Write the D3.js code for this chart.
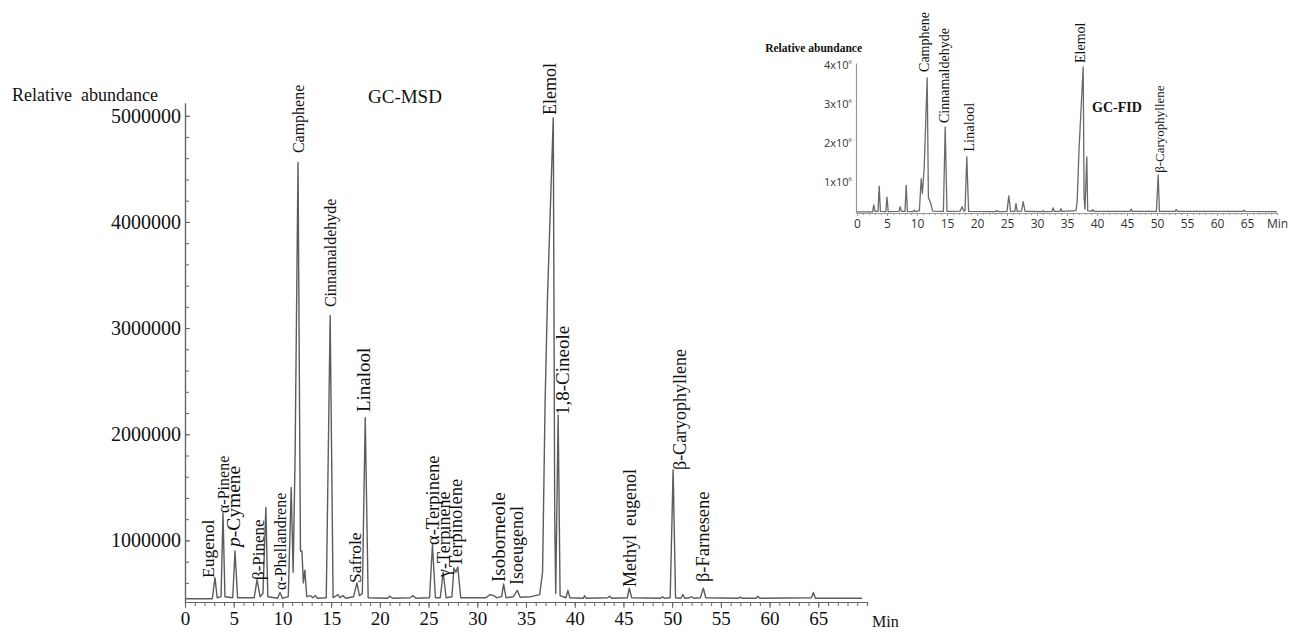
<!DOCTYPE html>
<html>
<head>
<meta charset="utf-8">
<script src="https://cdn.jsdelivr.net/npm/d3@7"></script>
<style>
  body { margin: 0; background: #fff; }
  svg { display: block; }
  text { font-family: "Liberation Serif", "Times New Roman", serif; fill: #111; }
  .inset-num { font-family: "Open Sans", "Liberation Sans", sans-serif; fill: #333; }
</style>
</head>
<body>
<div class="chart"></div>
<script>
const WIDTH = 1293;
const HEIGHT = 632;

// GC-MSD trace: [retention time (min), abundance]
var msdTrace = [
  [0, 450000], [2.8, 450000], [3.08, 650000], [3.3, 460000], [3.7, 470000], [3.9, 1260000], [4.1, 470000],
  [4.9, 460000], [5.13, 900000], [5.4, 460000], [7.1, 460000], [7.4, 630000], [7.7, 470000], [8.0, 500000],
  [8.3, 1310000], [8.5, 470000], [9.5, 455000], [9.75, 510000], [10.0, 455000], [10.6, 470000], [10.9, 1500000],
  [11.1, 700000], [11.3, 1790000], [11.6, 4560000], [11.85, 900000], [12.0, 900000], [12.15, 600000],
  [12.3, 720000], [12.5, 470000], [12.9, 480000], [13.1, 460000], [13.4, 480000], [13.6, 455000],
  [14.5, 460000], [14.9, 3120000], [15.2, 460000], [15.7, 490000], [15.9, 460000], [16.2, 480000],
  [16.5, 455000], [17.3, 470000], [17.65, 600000], [17.9, 480000], [18.2, 500000], [18.5, 2155000],
  [18.8, 460000], [20.8, 455000], [21.0, 475000], [21.3, 455000], [23.1, 460000], [23.4, 480000],
  [23.7, 455000], [25.1, 460000], [25.4, 960000], [25.7, 460000], [26.2, 460000], [26.5, 700000],
  [26.8, 460000], [27.4, 470000], [27.6, 740000], [27.8, 700000], [28.0, 750000], [28.3, 460000],
  [30.9, 460000], [31.3, 490000], [31.7, 480000], [32.0, 460000], [32.5, 470000], [32.7, 590000],
  [32.95, 460000], [33.7, 470000], [34.1, 530000], [34.4, 465000], [35.5, 470000], [36.4, 490000],
  [36.7, 700000], [36.96, 2300000], [37.2, 3270000], [37.8, 4980000], [37.95, 1200000], [38.05, 500000],
  [38.3, 2180000], [38.5, 480000], [39.1, 460000], [39.3, 530000], [39.5, 460000], [40.9, 455000],
  [41.0, 480000], [41.2, 455000], [43.4, 460000], [43.6, 475000], [43.8, 455000], [45.4, 460000],
  [45.6, 550000], [45.85, 460000], [48.8, 455000], [49.0, 470000], [49.2, 455000], [49.8, 460000],
  [50.1, 1665000], [50.35, 460000], [50.9, 455000], [51.1, 490000], [51.3, 455000], [51.8, 460000],
  [52.0, 470000], [52.2, 455000], [52.9, 460000], [53.2, 550000], [53.45, 460000], [56.8, 455000],
  [57.0, 465000], [57.2, 455000], [58.6, 455000], [58.8, 475000], [59.0, 455000], [64.3, 460000],
  [64.5, 510000], [64.7, 455000], [69.5, 455000]
];

var msdNames = ['Eugenol', 'α-Pinene', 'p-Cymene', 'β-Pinene', 'α-Phellandrene', 'Camphene', 'Cinnamaldehyde',
  'Safrole', 'Linalool', 'α-Terpinene', 'γ-Terpinene', 'Terpinolene', 'Isoborneole', 'Isoeugenol', 'Elemol',
  '1,8-Cineole', 'Methyl  eugenol', 'β-Caryophyllene', 'β-Farnesene'];
var msdNameTimes = [2.98, 4.52, 5.65, 8.11, 10.37, 12.22, 15.5, 18.07, 18.99, 26.08, 27.2, 28.44, 32.85, 34.7,
  38.09, 39.43, 46.3, 51.44, 53.8];
var msdNameLevels = [646000, 1258000, 938000, 627000, 533000, 4648000, 3198000, 599000, 2209000, 957000,
  655000, 750000, 608000, 580000, 5006000, 2181000, 561000, 1663000, 608000];

var msdXTicks = [0, 5, 10, 15, 20, 25, 30, 35, 40, 45, 50, 55, 60, 65];
var msdYTicks = [1000000, 2000000, 3000000, 4000000, 5000000];

// GC-FID inset trace
var fidTrace = [
  [0, 230000], [2.6, 230000], [2.8, 410000], [3.0, 240000], [3.5, 240000], [3.7, 890000], [3.9, 240000],
  [4.8, 235000], [5.0, 610000], [5.2, 235000], [7.0, 240000], [7.2, 360000], [7.4, 240000], [8.0, 245000],
  [8.2, 910000], [8.4, 240000], [9.3, 235000], [9.5, 270000], [9.7, 235000], [10.4, 260000], [10.7, 1080000],
  [10.9, 700000], [11.2, 1360000], [11.7, 3670000], [11.9, 600000], [12.1, 520000], [12.3, 440000],
  [12.6, 250000], [14.4, 240000], [14.7, 2410000], [15.0, 240000], [17.2, 250000], [17.5, 360000],
  [17.8, 250000], [18.0, 260000], [18.3, 1640000], [18.6, 240000], [23.0, 235000], [23.3, 260000],
  [23.6, 235000], [25.0, 240000], [25.3, 640000], [25.6, 240000], [26.3, 240000], [26.5, 440000],
  [26.7, 240000], [27.4, 250000], [27.7, 490000], [28.0, 245000], [30.8, 235000], [31.0, 260000],
  [31.2, 235000], [32.5, 240000], [32.7, 330000], [32.9, 240000], [33.8, 240000], [34.0, 310000],
  [34.2, 240000], [36.5, 260000], [36.7, 500000], [37.0, 1820000], [37.7, 3950000], [37.85, 600000],
  [38.0, 300000], [38.3, 1640000], [38.45, 260000], [39.1, 240000], [39.3, 290000], [39.5, 240000],
  [45.5, 240000], [45.7, 300000], [45.9, 240000], [49.9, 240000], [50.2, 1180000], [50.4, 240000],
  [53.0, 240000], [53.2, 290000], [53.4, 240000], [64.3, 240000], [64.5, 270000], [64.7, 240000],
  [70, 235000]
];

var fidNames = ['Camphene', 'Cinnamaldehyde', 'Linalool', 'Elemol', 'β-Caryophyllene'];
var fidNameTimes = [12.0, 15.33, 19.5, 38.0, 51.17];
var fidNameLevels = [3820000, 2510000, 1770000, 4050000, 1230000];

var fidXTicks = [0, 5, 10, 15, 20, 25, 30, 35, 40, 45, 50, 55, 60, 65];
var fidYTicks = [1000000, 2000000, 3000000, 4000000];
var fidYTickLabels = ['1x10', '2x10', '3x10', '4x10'];

var msdX = d3.scaleLinear().domain([0, 70]).range([185, 867]);
var msdY = d3.scaleLinear().domain([420000, 5120000]).range([602, 103]);

var fidX = d3.scaleLinear().domain([0, 70]).range([857, 1277]);
var fidY = d3.scaleLinear().domain([200000, 4050000]).range([213, 63]);

var svg = d3.select('.chart').append('svg')
  .attr('width', WIDTH)
  .attr('height', HEIGHT);

svg.append('rect').attr('width', WIDTH).attr('height', HEIGHT).attr('fill', '#fff');

function styleAxis(g, color) {
  g.select('.domain').attr('stroke', color).attr('stroke-width', 1.2);
  g.selectAll('.tick line').attr('stroke', color);
}

function drawMsd() {
  var g = svg.append('g');

  // minor ticks
  var xMinor = g.append('g').attr('transform', 'translate(0,602)')
    .call(d3.axisBottom(msdX).tickValues(d3.range(0, 70, 1)).tickSize(4).tickFormat(''));
  styleAxis(xMinor, '#666');

  var xAxisG = g.append('g').attr('transform', 'translate(0,602)')
    .call(d3.axisBottom(msdX).tickValues(msdXTicks).tickSize(6).tickPadding(4).tickSizeOuter(0));
  styleAxis(xAxisG, '#666');
  xAxisG.selectAll('text').attr('font-size', 19).attr('font-family', '"Liberation Serif", serif').attr('fill', '#111');

  var yMinor = g.append('g').attr('transform', 'translate(185,0)')
    .call(d3.axisLeft(msdY).tickValues(d3.range(600000, 5100001, 200000)).tickSize(-4).tickSizeOuter(0).tickFormat(''));
  styleAxis(yMinor, '#666');

  var yAxisG = g.append('g').attr('transform', 'translate(185,0)')
    .call(d3.axisLeft(msdY).tickValues(msdYTicks).tickSizeInner(-5).tickSizeOuter(0).tickPadding(4).tickFormat(d3.format('d')));
  styleAxis(yAxisG, '#666');
  yAxisG.selectAll('text').attr('font-size', 20).attr('font-family', '"Liberation Serif", serif').attr('fill', '#111');

  var line = d3.line()
    .x(function (d) { return msdX(d[0]); })
    .y(function (d) { return msdY(d[1]); });

  g.append('path')
    .attr('d', line(msdTrace))
    .attr('fill', 'none')
    .attr('stroke', '#5c5c5c')
    .attr('stroke-width', 1.4)
    .attr('stroke-linejoin', 'round');

  var sizes = [17.5, 16, 19.5, 17, 16, 16, 16, 17.5, 19, 18.5, 18, 18.5, 19, 18, 18, 19, 18, 18, 18.5];
  msdNames.forEach(function (name, i) {
    var t = g.append('text')
      .attr('transform', 'translate(' + msdX(msdNameTimes[i]) + ',' + msdY(msdNameLevels[i]) + ') rotate(-90)')
      .attr('font-size', sizes[i])
      .style('white-space', 'pre');
    if (name === 'p-Cymene') {
      t.append('tspan').attr('font-style', 'italic').text('p');
      t.append('tspan').text('-Cymene');
    } else {
      t.text(name);
    }
  });

  g.append('text').attr('x', 12).attr('y', 101).attr('font-size', 18)
    .style('white-space', 'pre').text('Relative  abundance');
  g.append('text').attr('x', 368).attr('y', 103).attr('font-size', 19).text('GC-MSD');
  g.append('text').attr('x', 872).attr('y', 627).attr('font-size', 16).text('Min');
}

function drawFid() {
  var g = svg.append('g');

  var xMinor = g.append('g').attr('transform', 'translate(0,213)')
    .call(d3.axisBottom(fidX).tickValues(d3.range(0, 70, 1)).tickSize(2).tickFormat(''));
  styleAxis(xMinor, '#999');

  var xAxisG = g.append('g').attr('transform', 'translate(0,213)')
    .call(d3.axisBottom(fidX).tickValues(fidXTicks).tickSize(3).tickPadding(3).tickSizeOuter(0));
  styleAxis(xAxisG, '#999');
  xAxisG.selectAll('text').attr('class', 'inset-num').attr('font-size', 12);

  var yAxisG = g.append('g').attr('transform', 'translate(856,0)')
    .call(d3.axisLeft(fidY).tickValues(fidYTicks).tickSize(0).tickPadding(4).tickFormat(''));
  styleAxis(yAxisG, '#999');

  var labels = g.selectAll('.ylab').data(fidYTicks).enter().append('text')
    .attr('class', 'inset-num')
    .attr('x', 852)
    .attr('y', function (d) { return fidY(d) + 4; })
    .attr('text-anchor', 'end')
    .attr('font-size', 11);
  labels.append('tspan').text(function (d, i) { return fidYTickLabels[i]; });
  labels.append('tspan').attr('dy', -5).attr('font-size', 6).text('6');

  var line = d3.line()
    .x(function (d) { return fidX(d[0]); })
    .y(function (d) { return fidY(d[1]); });

  g.append('path')
    .attr('d', line(fidTrace))
    .attr('fill', 'none')
    .attr('stroke', '#6a6a6a')
    .attr('stroke-width', 1.3)
    .attr('stroke-linejoin', 'round');

  var sizes = [14, 14, 14.5, 14, 13];
  fidNames.forEach(function (name, i) {
    g.append('text')
      .attr('transform', 'translate(' + fidX(fidNameTimes[i]) + ',' + fidY(fidNameLevels[i]) + ') rotate(-90)')
      .attr('font-size', sizes[i])
      .attr('fill', '#222')
      .text(name);
  });

  g.append('text').attr('x', 862).attr('y', 52).attr('text-anchor', 'end')
    .attr('font-size', 11.5).attr('font-weight', 'bold').text('Relative abundance');
  g.append('text').attr('x', 1092).attr('y', 112).attr('font-size', 14).attr('font-weight', 'bold').text('GC-FID');
  g.append('text').attr('class', 'inset-num').attr('x', 1267).attr('y', 228).attr('font-size', 12).text('Min');
}

drawMsd();
drawFid();
</script>
</body>
</html>
